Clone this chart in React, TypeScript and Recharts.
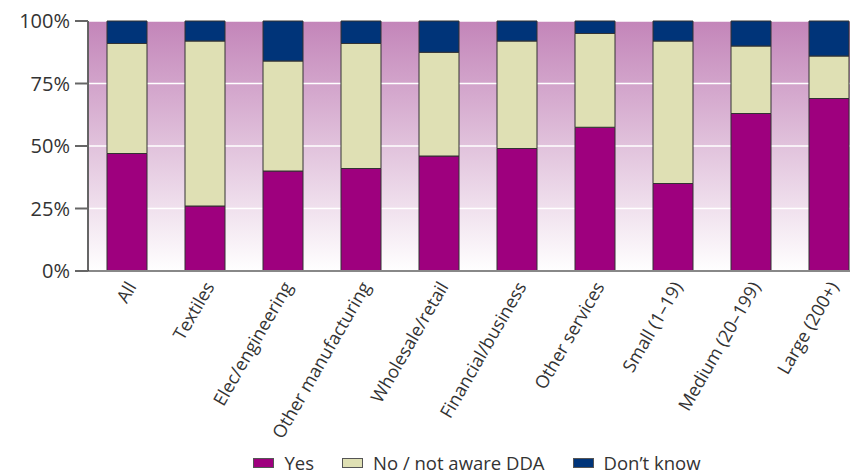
import React from 'react';
import { BarChart, Bar, XAxis, YAxis, CartesianGrid, Legend } from 'recharts';

// categories and shares (percent)
const categories = [
  'All',
  'Textiles',
  'Elec/engineering',
  'Other manufacturing',
  'Wholesale/retail',
  'Financial/business',
  'Other services',
  'Small (1\u201319)',
  'Medium (20\u2013199)',
  'Large (200+)',
];
const yes = [47, 26, 40, 41, 46, 49, 57.5, 35, 63, 69];
const notAware = [44, 66, 44, 50, 41.5, 43, 37.5, 57, 27, 17];
const dontKnow = [9, 8, 16, 9, 12.5, 8, 5, 8, 10, 14];
const yTicks = [0, 25, 50, 75, 100];

const seriesInfo = [
  { key: 'yes', name: 'Yes', color: '#9e007e' },
  { key: 'no', name: 'No / not aware DDA', color: '#dfe0b4' },
  { key: 'dk', name: 'Don\u2019t know', color: '#003479' },
];

const data = categories.map((c, i) => ({
  name: c,
  yes: yes[i],
  no: notAware[i],
  dk: dontKnow[i],
}));

const FONT = '"Open Sans", sans-serif';

const XTick = (props: any) => {
  const { x, y, payload } = props;
  return (
    <text
      x={x + 4}
      y={y + 4}
      transform={`rotate(-60, ${x + 4}, ${y + 4})`}
      textAnchor="end"
      dominantBaseline="central"
      fontSize={18}
      fontFamily={FONT}
      fill="#333"
    >
      {payload.value}
    </text>
  );
};

const LegendBox = () => (
  <div style={{ display: 'flex', justifyContent: 'center', alignItems: 'center', gap: 28, fontFamily: FONT, fontSize: 18.5, lineHeight: '22px', color: '#333', height: 22 }}>
    {seriesInfo.map((s) => (
      <div key={s.key} style={{ display: 'flex', alignItems: 'center' }}>
        <span style={{ display: 'inline-block', width: 19, height: 8, background: s.color, border: '1px solid #555', marginRight: 10 }} />
        <span>{s.name}</span>
      </div>
    ))}
  </div>
);

const App = () => {
  return (
    <div style={{ position: 'absolute', left: 0, top: 0, width: 850, height: 475, overflow: 'hidden', background: '#fff' }}>
      <BarChart
        width={880}
        height={475}
        data={data}
        margin={{ top: 21, right: 12, left: 0, bottom: 0 }}
        barSize={40}
      >
        <defs>
          <linearGradient id="bgGrad" x1="0" y1="0" x2="0" y2="1">
            <stop offset="0%" stopColor="#c385b9" />
            <stop offset="100%" stopColor="#ffffff" />
          </linearGradient>
        </defs>
        <CartesianGrid fill="url(#bgGrad)" fillOpacity={1} stroke="#ffffff" strokeWidth={1.5} />
        <XAxis
          dataKey="name"
          interval={0}
          height={182}
          tick={<XTick />}
          tickLine={false}
          axisLine={{ stroke: '#888', strokeWidth: 2 }}
        />
        <YAxis
          domain={[0, 100]}
          ticks={yTicks}
          width={88}
          tickSize={13}
          tickFormatter={(v) => `${v}%`}
          tick={{ fontSize: 20, fontFamily: FONT, fill: '#333', dx: -3 }}
          axisLine={{ stroke: '#333', strokeWidth: 1.5 }}
          tickLine={{ stroke: '#666', strokeWidth: 2 }}
        />
        <Legend verticalAlign="bottom" content={<LegendBox />} wrapperStyle={{ left: 57, width: 840, top: 452 }} />
        {seriesInfo.map((s) => (
          <Bar
            key={s.key}
            dataKey={s.key}
            name={s.name}
            stackId="a"
            fill={s.color}
            stroke="#333"
            strokeWidth={1}
            isAnimationActive={false}
          />
        ))}
      </BarChart>
    </div>
  );
};

export default App;
